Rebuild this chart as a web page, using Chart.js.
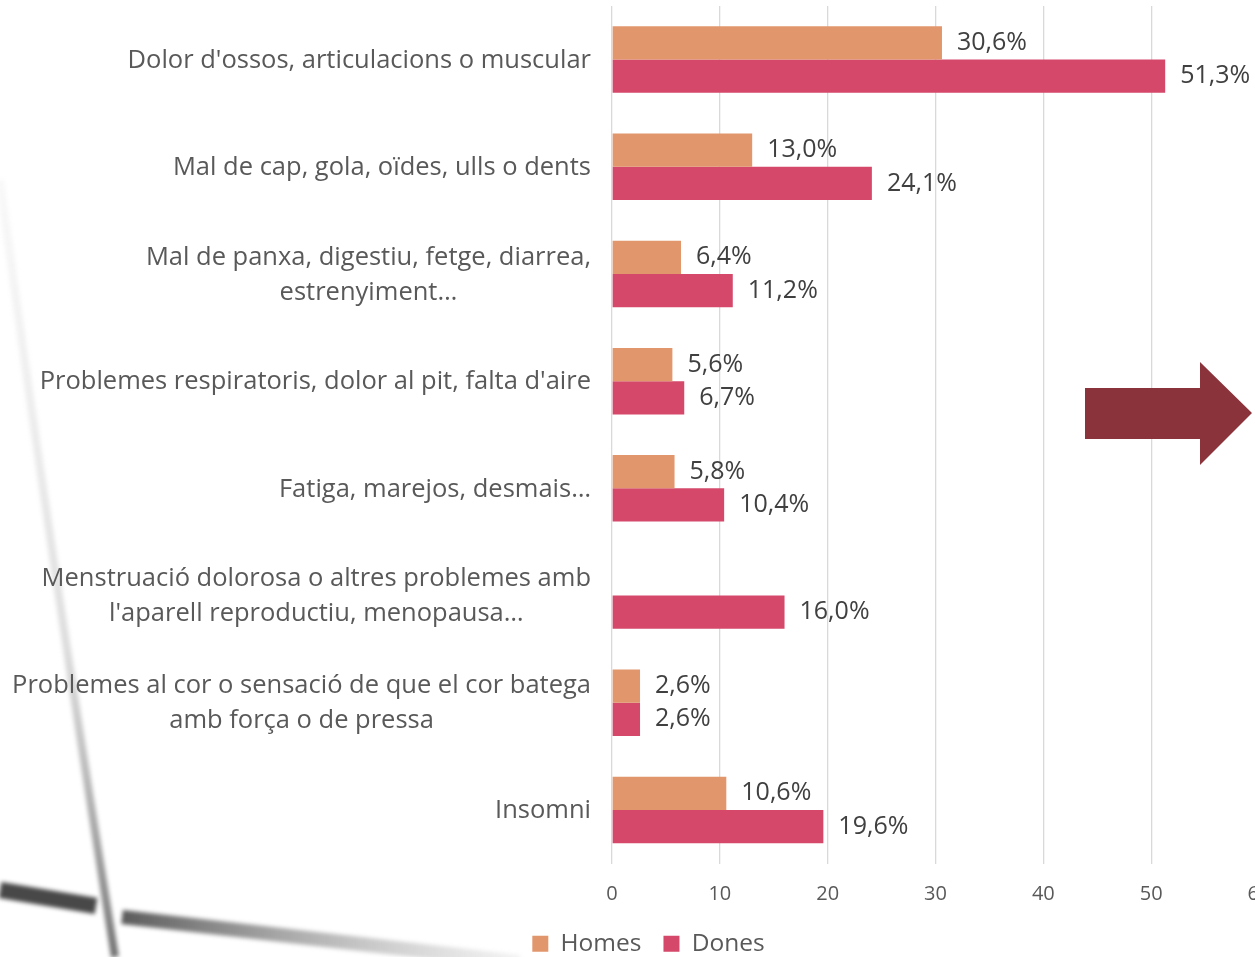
<!DOCTYPE html>
<html>
<head>
<meta charset="utf-8">
<script src="https://cdn.jsdelivr.net/npm/chart.js@4"></script>
<style>
  html, body { margin: 0; padding: 0; overflow: hidden; background: #fff; }
  #wrap { position: absolute; left: 0; top: 0; width: 1300px; height: 957px; }
</style>
</head>
<body>
<div id="wrap"><canvas id="chart"></canvas></div>
<script>
// dades del gràfic
const categories = [
    ["Dolor d'ossos, articulacions o muscular"],
    ["Mal de cap, gola, oïdes, ulls o dents"],
    ["Mal de panxa, digestiu, fetge, diarrea,", "estrenyiment…"],
    ["Problemes respiratoris, dolor al pit, falta d'aire"],
    ["Fatiga, marejos, desmais…"],
    ["Menstruació dolorosa o altres problemes amb", "l'aparell reproductiu, menopausa…"],
    ["Problemes al cor o sensació de que el cor batega", "amb força o de pressa"],
    ["Insomni"]
];
const homes = [30.6, 13.0, 6.4, 5.6, 5.8, null, 2.6, 10.6];
const dones = [51.3, 24.1, 11.2, 6.7, 10.4, 16.0, 2.6, 19.6];
const xTicks = [0, 10, 20, 30, 40, 50, 60];

const FONT = "'Open Sans', sans-serif";
const GREY = '#595959';

// fons: traços grisos decoratius
const backdrop = {
    id: 'backdrop',
    beforeDraw(chart) {
        const ctx = chart.ctx;
        ctx.save();
        ctx.filter = 'blur(2px)';
        ctx.lineCap = 'butt';
        // línia vertical clara
        const gv = ctx.createLinearGradient(0, 180, 0, 957);
        gv.addColorStop(0, 'rgba(200,200,200,0.12)');
        gv.addColorStop(0.6, 'rgba(170,170,170,0.4)');
        gv.addColorStop(1, 'rgba(80,80,80,0.8)');
        ctx.strokeStyle = gv;
        ctx.lineWidth = 8;
        ctx.beginPath();
        ctx.moveTo(0, 180);
        ctx.quadraticCurveTo(45, 520, 115, 957);
        ctx.stroke();
        // banda fosca inferior
        ctx.strokeStyle = 'rgba(40,40,40,0.85)';
        ctx.lineWidth = 16;
        ctx.beginPath();
        ctx.moveTo(0, 890);
        ctx.lineTo(96, 906);
        ctx.stroke();
        const g = ctx.createLinearGradient(122, 0, 520, 0);
        g.addColorStop(0, 'rgba(50,50,50,0.8)');
        g.addColorStop(1, 'rgba(140,140,140,0.1)');
        ctx.strokeStyle = g;
        ctx.lineWidth = 14;
        ctx.beginPath();
        ctx.moveTo(122, 917);
        ctx.lineTo(520, 962);
        ctx.stroke();
        ctx.restore();
    }
};

// etiquetes de categoria (centrades entre elles, alineades a la dreta)
const catLabels = {
    id: 'catLabels',
    afterDraw(chart) {
        const ctx = chart.ctx;
        const y = chart.scales.y;
        const right = chart.chartArea.left - 21;
        ctx.save();
        ctx.font = '25.5px ' + FONT;
        ctx.fillStyle = GREY;
        ctx.textAlign = 'center';
        ctx.textBaseline = 'middle';
        categories.forEach((lines, i) => {
            const w = Math.max(...lines.map(l => ctx.measureText(l).width));
            const cx = right - w / 2;
            const cy = y.getPixelForValue(i) + 1;
            const lh = 35;
            lines.forEach((l, k) => {
                ctx.fillText(l, cx, cy + (k - (lines.length - 1) / 2) * lh);
            });
        });
        ctx.restore();
    }
};

// valors al final de cada barra
const valueLabels = {
    id: 'valueLabels',
    afterDatasetsDraw(chart) {
        const ctx = chart.ctx;
        ctx.save();
        ctx.font = '25px ' + FONT;
        ctx.fillStyle = '#404040';
        ctx.textAlign = 'left';
        ctx.textBaseline = 'middle';
        chart.data.datasets.forEach((ds, di) => {
            chart.getDatasetMeta(di).data.forEach((bar, i) => {
                const v = ds.data[i];
                if (v == null) return;
                ctx.fillText(v.toFixed(1).replace('.', ',') + '%', bar.x + 15, bar.y);
            });
        });
        ctx.restore();
    }
};

// fletxa decorativa
const arrow = {
    id: 'arrow',
    afterDraw(chart) {
        const ctx = chart.ctx;
        ctx.save();
        ctx.fillStyle = '#8B333B';
        ctx.beginPath();
        ctx.moveTo(1085, 388);
        ctx.lineTo(1200, 388);
        ctx.lineTo(1200, 362);
        ctx.lineTo(1252, 413);
        ctx.lineTo(1200, 465);
        ctx.lineTo(1200, 439);
        ctx.lineTo(1085, 439);
        ctx.closePath();
        ctx.fill();
        ctx.restore();
    }
};

new Chart(document.getElementById('chart'), {
    type: 'bar',
    data: {
        labels: categories,
        datasets: [
            { label: 'Homes', data: homes, backgroundColor: '#E2966C' },
            { label: 'Dones', data: dones, backgroundColor: '#D5486A' }
        ]
    },
    options: {
        indexAxis: 'y',
        responsive: true,
        maintainAspectRatio: false,
        animation: false,
        layout: { padding: { top: 6, right: 41, bottom: -9, left: 38 } },
        datasets: { bar: { categoryPercentage: 0.62, barPercentage: 1 } },
        scales: {
            x: {
                min: 0,
                max: 60,
                afterBuildTicks: s => { s.ticks = xTicks.map(v => ({ value: v })); },
                afterFit: s => { s.height = 46; },
                grid: { color: '#d9d9d9', lineWidth: 1.3, drawTicks: false },
                border: { display: false },
                ticks: { color: GREY, font: { family: FONT, size: 20 }, padding: 19 }
            },
            y: {
                afterFit: s => { s.width = 574; },
                grid: { display: false },
                border: { display: false },
                ticks: { display: false }
            }
        },
        plugins: {
            legend: {
                position: 'bottom',
                labels: {
                    color: GREY,
                    font: { family: FONT, size: 24.5 },
                    boxWidth: 16,
                    boxHeight: 16,
                    padding: 22
                }
            },
            tooltip: { enabled: false }
        }
    },
    plugins: [backdrop, catLabels, valueLabels, arrow]
});
</script>
</body>
</html>
